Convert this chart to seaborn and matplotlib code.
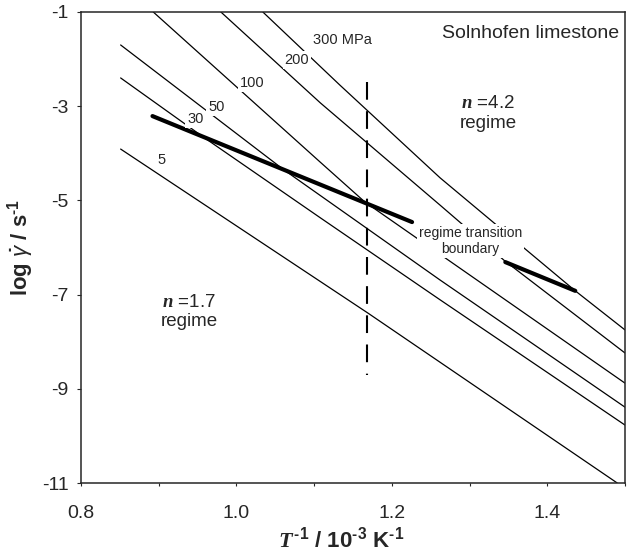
import numpy as np
import pandas as pd
import matplotlib
matplotlib.use("Agg")
import matplotlib.pyplot as plt
import seaborn as sns

# ---- data ----
stress_labels = ["5", "30", "50", "100", "200", "300 MPa"]
x5 = [0.851, 1.169, 1.490]
y5 = [-3.91, -7.39, -11.0]
x30 = [0.851, 0.957, 1.108, 1.262, 1.500]
y30 = [-2.40, -3.65, -5.37, -7.11, -9.77]
x50 = [0.851, 1.061, 1.262, 1.500]
y50 = [-1.70, -4.35, -6.69, -9.39]
x100 = [0.893, 1.108, 1.165, 1.500]
y100 = [-1.00, -4.19, -5.03, -8.88]
x200 = [0.980, 1.108, 1.262, 1.345, 1.500]
y200 = [-1.00, -2.93, -5.10, -6.28, -8.24]
x300 = [1.034, 1.133, 1.262, 1.436, 1.500]
y300 = [-1.00, -2.55, -4.52, -6.92, -7.75]

# regime transition boundary (two pieces, gap at its label)
bound_x1 = [0.892, 1.226]
bound_y1 = [-3.21, -5.46]
bound_x2 = [1.346, 1.436]
bound_y2 = [-6.31, -6.92]

# vertical dashed line
dash_x = [1.168, 1.168]
dash_y = [-2.49, -8.71]

# stress label positions
label_x = [0.903, 0.947, 0.974, 1.020, 1.078, 1.137]
label_y = [-4.14, -3.27, -3.02, -2.51, -2.02, -1.59]

xticks_major = [0.8, 1.0, 1.2, 1.4]
xticks_minor = [0.9, 1.1, 1.3, 1.5]
yticks = [-1, -3, -5, -7, -9, -11]

# ---- build long tables ----
series = [(x5, y5), (x30, y30), (x50, y50), (x100, y100), (x200, y200), (x300, y300)]
rows = []
for lab, (xs, ys) in zip(stress_labels, series):
    for a, b in zip(xs, ys):
        rows.append({"x": a, "y": b, "stress": lab})
df = pd.DataFrame(rows)

brows = []
for seg, (xs, ys) in enumerate([(bound_x1, bound_y1), (bound_x2, bound_y2)]):
    for a, b in zip(xs, ys):
        brows.append({"x": a, "y": b, "seg": seg})
bdf = pd.DataFrame(brows)
ddf = pd.DataFrame({"x": dash_x, "y": dash_y})

sns.set_style("ticks")
plt.rcParams["font.family"] = ["Liberation Sans", "DejaVu Sans"]
plt.rcParams["mathtext.fontset"] = "custom"
plt.rcParams["mathtext.rm"] = "Liberation Sans:bold"
plt.rcParams["mathtext.bf"] = "Liberation Sans:bold"
plt.rcParams["mathtext.it"] = "Liberation Sans:italic"
plt.rcParams["mathtext.bfit"] = "Liberation Serif:italic:bold"

fig = plt.figure(figsize=(6.29, 5.53), dpi=100)
ax = fig.add_axes([81 / 629, 1 - 483 / 553, 544 / 629, 471 / 553])

sns.lineplot(data=df, x="x", y="y", hue="stress", palette=["black"] * 6,
             estimator=None, sort=False, legend=False, lw=0.9, ax=ax)
sns.lineplot(data=bdf, x="x", y="y", units="seg", estimator=None, sort=False,
             color="black", lw=3.0, ax=ax, legend=False)
sns.lineplot(data=ddf, x="x", y="y", estimator=None, sort=False,
             color="black", lw=1.5, ax=ax, legend=False)
ax.lines[-1].set_linestyle((0, (8.5, 5.5)))

box = dict(boxstyle="square,pad=0.12", fc="white", ec="none")
for lab, lx, ly in zip(stress_labels, label_x, label_y):
    ax.text(lx, ly, lab, fontsize=10.5, ha="center", va="center", bbox=box, zorder=5)

ax.text(1.379, -1.45, "Solnhofen limestone", fontsize=14, ha="center", va="center")
ax.text(1.324, -3.15, "$\\mathbfit{n}$ =4.2\nregime", fontsize=13.5, ha="center",
        va="center", linespacing=1.2)
ax.text(0.939, -7.37, "$\\mathbfit{n}$ =1.7\nregime", fontsize=13.5, ha="center",
        va="center", linespacing=1.2)
ax.text(1.301, -5.86, "regime transition\nboundary", fontsize=10, ha="center",
        va="center", linespacing=1.2, bbox=dict(boxstyle="square,pad=0.15", fc="white", ec="none"),
        zorder=5)

ax.set_xlim(0.8, 1.5)
ax.set_ylim(-11, -1)
ax.set_xticks(xticks_major)
ax.set_xticks(xticks_minor, minor=True)
ax.set_xticklabels([f"{v:.1f}" for v in xticks_major])
ax.set_yticks(yticks)
ax.set_yticklabels([str(v) for v in yticks])
ax.tick_params(axis="x", which="both", direction="out", length=2.5, width=0.8,
               labelsize=14, pad=13)
ax.tick_params(axis="y", direction="out", length=3, width=0.8, labelsize=14, pad=6)
for s in ax.spines.values():
    s.set_visible(True)
    s.set_linewidth(1.1)

xl_try = "$\\mathbfit{T}^{\\,\\text{-1}}$ / 10$^{\\text{-3}}$ K$^{\\text{-1}}$"
yl_try = "log $\\dot{\\gamma}$ / s$^{\\text{-1}}$"
xl_fb = "$\\mathbfit{T}^{\\,\\mathbf{-1}}$ / 10$^{\\mathbf{-3}}$ K$^{\\mathbf{-1}}$"
yl_fb = "log $\\dot{\\gamma}$ / s$^{\\mathbf{-1}}$"
ax.set_xlabel(xl_try, fontsize=16, fontweight="bold")
ax.set_ylabel(yl_try, fontsize=16, fontweight="bold")
try:
    fig.canvas.draw()
except Exception:
    ax.set_xlabel(xl_fb, fontsize=16, fontweight="bold")
    ax.set_ylabel(yl_fb, fontsize=16, fontweight="bold")
ax.xaxis.set_label_coords(0.478, -0.092)
ax.yaxis.set_label_coords(-0.082, 0.5)

fig.savefig("out.png", dpi=100)
